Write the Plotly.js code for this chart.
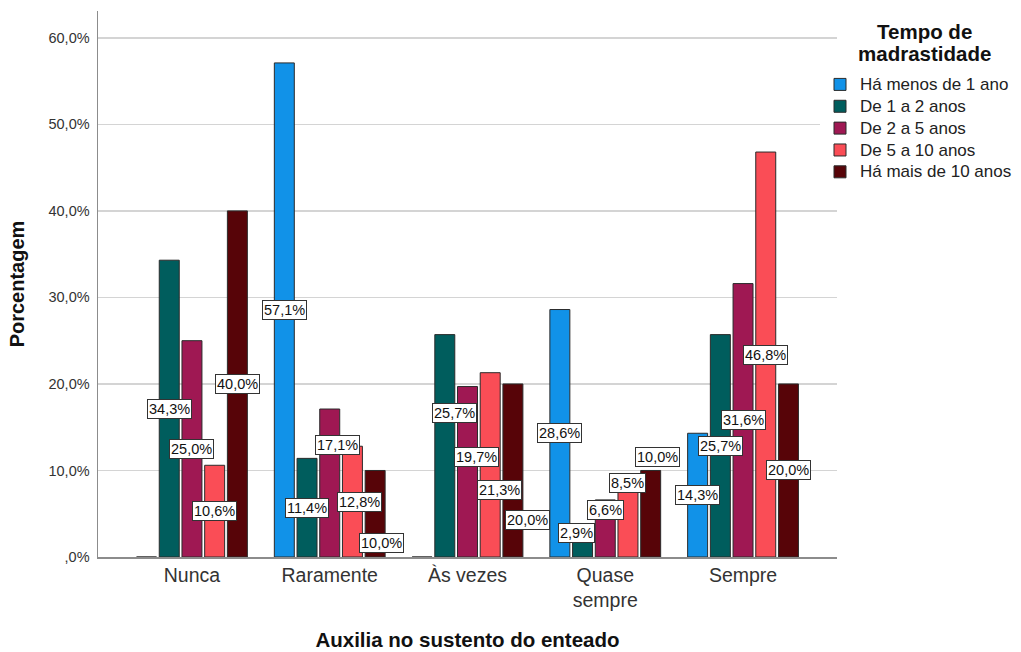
<!DOCTYPE html>
<html>
<head>
<meta charset="utf-8">
<script src="https://cdn.plot.ly/plotly-3.0.1.min.js"></script>
<style>
  html, body { margin: 0; padding: 0; background: #ffffff; }
  #chart { width: 1021px; height: 652px; }
</style>
</head>
<body>
<div id="chart"></div>
<script>
// Auxilia no sustento do enteado × Tempo de madrastidade (% por grupo)
const categories = ['Nunca', 'Raramente', 'Às vezes', 'Quase<br>sempre', 'Sempre'];

const seriesNames = [
  'Há menos de 1 ano',
  'De 1 a 2 anos',
  'De 2 a 5 anos',
  'De 5 a 10 anos',
  'Há mais de 10 anos'
];

const menos1ano  = [0,    57.1, 0,    28.6, 14.3];
const de1a2anos  = [34.3, 11.4, 25.7, 2.9,  25.7];
const de2a5anos  = [25.0, 17.1, 19.7, 6.6,  31.6];
const de5a10anos = [10.6, 12.8, 21.3, 8.5,  46.8];
const mais10anos = [40.0, 10.0, 20.0, 10.0, 20.0];

const seriesValues = [menos1ano, de1a2anos, de2a5anos, de5a10anos, mais10anos];

const yTickVals = [0, 10, 20, 30, 40, 50, 60];
const yTickText = [',0%', '10,0%', '20,0%', '30,0%', '40,0%', '50,0%', '60,0%'];

const legendHeading = ['Tempo de', 'madrastidade'];

// Colours and geometry
const colors = ['#1192e8', '#005d5d', '#9f1853', '#fa4d56', '#570408'];
const M = { l: 98, r: 184, t: 11, b: 95, autoexpand: false };
const W = 1021, H = 652;
const X_RANGE = [-0.682, 4.682];
const Y_RANGE = [0, 63.1];
const BARGAP = 0.176;
const FONT = 'Liberation Sans, Arial, sans-serif';

// Label offsets (px) so that neighbouring value boxes do not collide
const labelNudge = {
  '1|2': [8, 38],  '1|3': [7, 0],   '1|4': [6, -29],
  '2|1': [10, 33], '2|2': [9, 15],  '2|3': [9, -25], '2|4': [15, -50],
  '3|1': [-6, 11], '3|2': [0, 18],  '3|3': [0, 37],  '3|4': [7, 57]
};

const fmt = v => v.toFixed(1).replace('.', ',') + '%';

// text drawn larger than the font size that sets the line / row spacing
const sized = (s, px) => '<span style="font-size:' + px + 'px">' + s + '</span>';

const traces = seriesNames.map((name, i) => ({
  type: 'bar',
  name: sized(name, 17),
  x: categories,
  y: seriesValues[i],
  marker: { color: colors[i], line: { color: '#2b2b2b', width: 1 } },
  hoverinfo: 'skip'
}));

// value boxes placed at half the bar height, centred over each bar
const plotW = W - M.l - M.r;
const catPx = plotW / (X_RANGE[1] - X_RANGE[0]);
const slotPx = catPx * (1 - BARGAP) / seriesNames.length;

const annotations = [];
seriesValues.forEach((vals, i) => {
  vals.forEach((v, c) => {
    if (!v) return;
    const n = labelNudge[c + '|' + i] || [0, 0];
    annotations.push({
      x: categories[c], y: v / 2, xref: 'x', yref: 'y',
      text: fmt(v), showarrow: false,
      xshift: (i - (seriesNames.length - 1) / 2) * slotPx + n[0],
      yshift: n[1],
      font: { family: FONT, size: 14.5, color: '#111' },
      bgcolor: '#ffffff', bordercolor: '#333333', borderwidth: 1, borderpad: 1
    });
  });
});

// centred two-line heading above the legend entries
annotations.push({
  xref: 'paper', yref: 'paper', x: 1.119, y: 0.9414,
  xanchor: 'center', yanchor: 'middle', align: 'center', showarrow: false,
  text: legendHeading.map(s => sized('<b>' + s + '</b>', 20.5)).join('<br>'),
  font: { family: FONT, size: 17, color: '#111' }
});

const layout = {
  width: W, height: H,
  margin: M,
  paper_bgcolor: '#ffffff', plot_bgcolor: '#ffffff',
  font: { family: FONT, color: '#222' },
  barmode: 'group',
  bargap: BARGAP,
  bargroupgap: 0.12,
  showlegend: true,
  legend: {
    x: 0.977, xanchor: 'left', y: 0.8947, yanchor: 'top',
    font: { size: 14.5, color: '#222' },
    traceorder: 'normal',
    itemclick: false
  },
  xaxis: {
    range: X_RANGE,
    showline: true, linecolor: '#8c8c8c', linewidth: 1.5,
    ticks: '', showgrid: false, zeroline: false,
    tickfont: { size: 19.5, color: '#333' },
    title: { text: '<b>Auxilia no sustento do enteado</b>',
             font: { size: 20.5, color: '#111' }, standoff: 22 },
    fixedrange: true
  },
  yaxis: {
    range: Y_RANGE,
    tickvals: yTickVals, ticktext: yTickText,
    showline: true, linecolor: '#8c8c8c', linewidth: 1.5,
    ticks: '', ticklen: 0, ticklabelstandoff: 4,
    showgrid: true, gridcolor: '#d4d4d4', gridwidth: 1.5,
    zeroline: false,
    tickfont: { size: 14.5, color: '#333' },
    title: { text: '<b>Porcentagem</b>', font: { size: 20, color: '#111' }, standoff: 18 },
    fixedrange: true
  },
  annotations: annotations
};

Plotly.newPlot('chart', traces, layout, { displayModeBar: false, staticPlot: true });
</script>
</body>
</html>
